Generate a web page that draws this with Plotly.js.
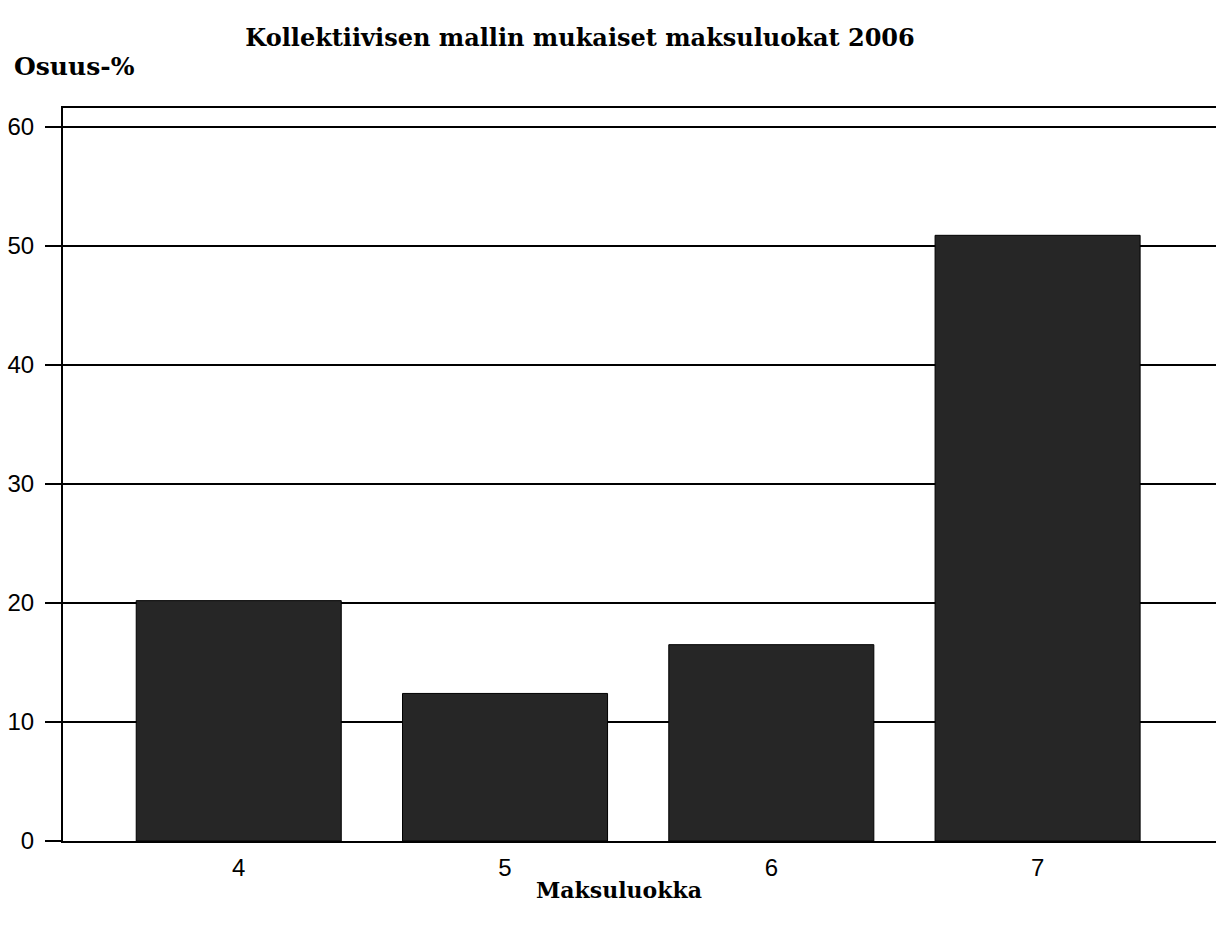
<!DOCTYPE html>
<html>
<head>
<meta charset="utf-8">
<script src="https://cdn.plot.ly/plotly-3.0.1.min.js"></script>
<style>html,body{margin:0;padding:0;background:#fff;}#chart{width:1216px;height:929px;}</style>
</head>
<body>
<div id="chart"></div>
<script>
const categories = ["4", "5", "6", "7"];
const shares = [20.2, 12.4, 16.5, 50.9];
const yTicks = [0, 10, 20, 30, 40, 50, 60];

const serif = "DejaVu Serif, Liberation Serif, serif";
const sans = "Liberation Sans, Arial, sans-serif";

const data = [{
  type: "bar",
  x: categories.map(Number),
  y: shares,
  width: 0.77,
  marker: {color: "#262626", line: {color: "#000", width: 1}},
  hoverinfo: "x+y"
}];

const layout = {
  width: 1216, height: 929,
  margin: {l: 63, r: 0, t: 108, b: 88},
  paper_bgcolor: "#fff", plot_bgcolor: "#fff",
  showlegend: false,
  title: {text: "<b>Kollektiivisen mallin mukaiset maksuluokat 2006</b>", font: {family: serif, size: 24, color: "#000"}, x: 0.477, xanchor: "center", y: 0.959, yanchor: "middle"},
  xaxis: {
    range: [3.34, 7.67],
    tickvals: categories.map(Number), ticktext: categories,
    showgrid: false, zeroline: false,
    showline: true, mirror: true, linecolor: "#000", linewidth: 2,
    ticks: "", tickfont: {family: sans, size: 24, color: "#000"},
    ticklabelstandoff: 4
  },
  yaxis: {
    range: [0, 61.6],
    tickvals: yTicks,
    showgrid: true, gridcolor: "#000", gridwidth: 2,
    zeroline: false,
    showline: true, linecolor: "#000", linewidth: 2,
    ticks: "outside", ticklen: 16, tickwidth: 2, tickcolor: "#000",
    tickfont: {family: sans, size: 24, color: "#000"},
    ticklabelstandoff: 6
  },
  annotations: [
    {text: "<b>Osuus-%</b>", xref: "paper", yref: "paper", x: -0.044, y: 1.0, xanchor: "left", yanchor: "middle", yshift: 42, showarrow: false, font: {family: serif, size: 25, color: "#000"}},
    {text: "<b>Maksuluokka</b>", xref: "paper", yref: "paper", x: 0.482, y: 0, xanchor: "center", yanchor: "middle", yshift: -49, showarrow: false, font: {family: serif, size: 22, color: "#000"}}
  ]
};

Plotly.newPlot("chart", data, layout, {displayModeBar: false, staticPlot: true});
</script>
</body>
</html>
